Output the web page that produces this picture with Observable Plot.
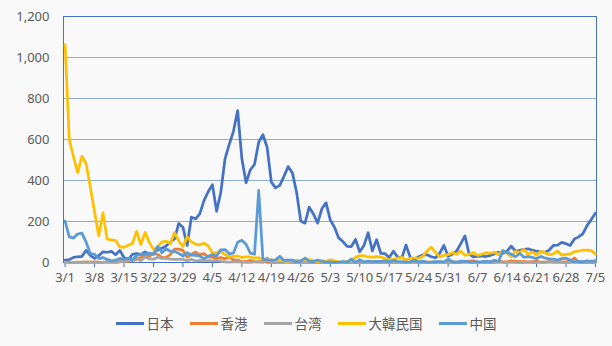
<!DOCTYPE html>
<html><head><meta charset="utf-8">
<script src="https://cdn.jsdelivr.net/npm/d3@7"></script>
<script src="https://cdn.jsdelivr.net/npm/@observablehq/plot@0.6"></script>
<style>
html,body{margin:0;padding:0;background:#f9f9f9;}
#wrap{width:612px;height:346px;position:relative;overflow:hidden;background:#f9f9f9;}
#chart{position:absolute;left:0;top:0;}
#legend{position:absolute;left:0;top:312px;width:612px;height:22px;display:flex;justify-content:center;align-items:center;gap:16px;font-family:"Noto Sans CJK JP",sans-serif;font-size:13.5px;color:#595959;}
.item{display:flex;align-items:center;gap:3px;}
.sw{width:28px;height:3px;}
</style></head>
<body><div id="wrap"><div id="chart"></div><div id="legend"></div></div>
<script>
const seriesNames = ["日本","香港","台湾","大韓民国","中国"];
const seriesColors = ["#4472C4","#ED7D31","#A5A5A5","#FFC000","#5B9BD5"];
const startDate = "2020-03-01";
const tickLabels = ["3/1","3/8","3/15","3/22","3/29","4/5","4/12","4/19","4/26","5/3","5/10","5/17","5/24","5/31","6/7","6/14","6/21","6/28","7/5"];
const yTicks = [0,200,400,600,800,1000,1200];

const japan = [
12,14,25,28,30,59,35,20,33,52,
50,54,38,59,25,12,40,44,38,52,
40,45,62,70,80,100,115,190,172,83,
221,213,237,302,345,380,250,343,506,576,
640,741,506,389,452,478,587,623,562,392,
364,376,420,468,437,343,202,192,270,237,
192,262,291,208,172,120,102,79,78,112,
52,83,145,57,111,45,43,24,55,27,
23,85,25,15,28,37,38,28,23,45,
83,30,40,55,92,130,40,28,30,32,
29,35,42,50,45,55,80,55,59,64,
67,60,55,52,50,60,83,85,98,92,
83,115,125,140,180,210,240];
const hongkong = [
2,1,0,2,1,3,2,3,2,0,
5,3,1,4,7,5,10,15,25,35,
30,44,39,25,24,39,65,65,59,27,
39,51,37,43,27,26,20,24,18,27,
13,12,4,4,11,4,3,6,1,0,
4,1,4,4,0,0,1,0,4,4,
3,1,0,0,0,1,0,0,0,0,
1,1,2,3,1,1,1,0,1,1,
0,1,2,2,0,4,2,2,1,3,
2,4,4,2,0,6,7,8,2,1,
2,3,2,6,4,3,8,6,4,4,
3,4,5,2,2,4,3,4,3,3,
7,22,3,3,4,2,8];
const taiwan = [
2,0,0,1,2,1,0,1,0,1,
1,2,1,3,6,8,10,23,8,27,
18,16,26,20,20,17,15,15,15,8,
16,7,10,9,9,8,10,6,3,2,
3,3,2,0,1,3,3,0,22,0,
0,0,0,1,0,2,0,0,0,0,
0,0,0,0,0,0,1,1,0,0,
0,0,0,0,0,0,0,0,0,0,
1,0,1,0,0,0,0,1,0,1,
0,0,0,0,0,1,0,0,2,0,
0,0,0,1,0,0,1,0,0,0,
1,0,0,1,0,3,0,1,0,0,
0,1,0,0,0,0,0];
const korea = [
1062,600,516,438,518,483,367,248,131,242,
114,110,107,76,74,84,93,152,87,147,
98,64,76,100,104,91,146,105,78,125,
101,89,86,94,81,47,47,53,39,27,
30,32,25,27,27,22,22,18,8,13,
9,11,8,6,10,10,10,10,14,9,
4,9,6,13,8,3,2,4,12,25,
34,33,27,26,29,27,19,13,15,22,
25,12,20,23,20,30,55,75,50,27,
35,38,48,40,55,35,40,48,35,40,
48,45,50,38,60,45,28,55,48,64,
40,52,36,55,48,38,42,55,36,40,
42,52,56,60,60,58,42];
const china = [
202,125,119,139,143,99,44,40,19,24,
15,8,11,20,16,21,13,34,39,41,
46,39,78,47,67,55,54,45,31,48,
36,35,31,19,30,39,32,62,63,42,
46,99,108,89,46,40,352,16,12,11,
12,30,10,11,12,3,6,22,6,4,
12,6,2,3,1,2,4,2,17,1,
14,3,7,4,6,5,8,4,10,6,
4,2,3,11,3,7,1,2,4,4,
2,16,5,1,7,5,3,2,3,4,
7,3,11,6,57,49,40,28,44,26,
29,25,18,30,22,18,17,12,19,21,
12,3,5,3,8,5,8];

const seriesValues = [japan, hongkong, taiwan, korea, china];
const day = 864e5;
const t0 = new Date(startDate + "T00:00:00Z").getTime();
const dates = japan.map((_, i) => new Date(t0 + i * day));
const rows = seriesNames.flatMap((name, s) => seriesValues[s].map((v, i) => ({date: dates[i], value: v, series: name})));
const tickDates = tickLabels.map(s => { const [m, d] = s.split("/").map(Number); return new Date(Date.UTC(2020, m - 1, d)); });
const fmtDate = d => `${d.getUTCMonth() + 1}/${d.getUTCDate()}`;

const chart = Plot.plot({
  width: 612, height: 296,
  marginTop: 16, marginBottom: 34, marginLeft: 63, marginRight: 16,
  style: {background: "transparent", fontFamily: "'Noto Sans','Noto Sans CJK JP',sans-serif", fontSize: "13px", color: "#595959"},
  x: {type: "utc", domain: [new Date(t0 - 9 * 3600e3), new Date(t0 + (dates.length - 1) * day + 6 * 3600e3)]},
  y: {domain: [0, 1200]},
  color: {domain: seriesNames, range: seriesColors},
  marks: [
    Plot.ruleY(yTicks.filter(v => v > 0 && v < 1200), {stroke: "#8FAADC", strokeWidth: 1}),
    Plot.frame({stroke: "#4472C4"}),
    Plot.axisY({ticks: yTicks, label: null, tickSize: 0, tickPadding: 14, tickFormat: d3.format(","), fill: "#595959", fontSize: 13}),
    Plot.axisX({ticks: tickDates, label: null, tickSize: 5, tickPadding: 5, stroke: "#4472C4", fill: "#595959", fontSize: 13, tickFormat: fmtDate}),
    Plot.line(rows, {x: "date", y: "value", z: "series", stroke: "series", strokeWidth: 2.75, strokeLinejoin: "round", strokeLinecap: "round"})
  ]
});
document.getElementById("chart").appendChild(chart);

const legend = document.getElementById("legend");
seriesNames.forEach((name, i) => {
  const item = document.createElement("div");
  item.className = "item";
  const sw = document.createElement("div");
  sw.className = "sw";
  sw.style.background = seriesColors[i];
  const lab = document.createElement("span");
  lab.textContent = name;
  item.appendChild(sw); item.appendChild(lab);
  legend.appendChild(item);
});
</script>
</body></html>
